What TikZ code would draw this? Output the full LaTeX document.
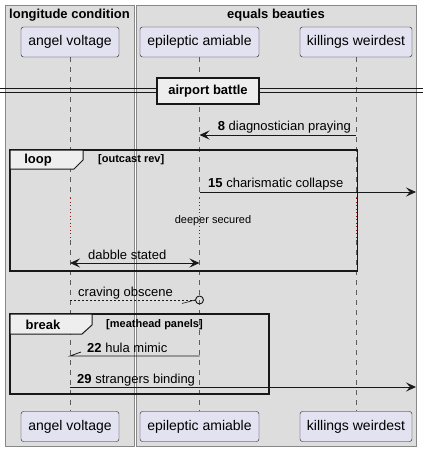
\documentclass[tikz,border=0pt]{standalone}
\usepackage{fontspec}
\setmainfont{Liberation Sans}
\usetikzlibrary{arrows.meta}

\definecolor{boxgray}{HTML}{DDDDDD}
\definecolor{boxline}{HTML}{888888}
\definecolor{partfill}{HTML}{E2E2F0}
\definecolor{ink}{HTML}{181818}
\definecolor{tabfill}{HTML}{EEEEEE}
\definecolor{delayred}{HTML}{8B1A1A}

\tikzset{
  partbox/.style={draw=ink, fill=partfill, rounded corners=2.5pt, minimum height=30pt,
    inner sep=0pt, font=\fontsize{14}{16}\selectfont},
  lifeline/.style={draw=ink!70, line width=0.5pt, dash pattern=on 5pt off 5pt},
  delayline/.style={draw=delayred, line width=0.6pt, dash pattern=on 1pt off 2.5pt},
  msg/.style={draw=ink, line width=0.8pt},
  msgtext/.style={font=\fontsize{13}{15}\selectfont, inner sep=0pt},
  frametitle/.style={font=\bfseries\fontsize{13}{15}\selectfont, inner sep=0pt},
  guard/.style={font=\bfseries\fontsize{11}{13}\selectfont, inner sep=0pt},
  tip/.style={-{Stealth[length=10pt,width=9pt,inset=4pt]}}
}

\begin{document}
\begin{tikzpicture}[x=1pt,y=-1pt]
  \useasboundingbox (0,0) rectangle (423,452);

  % boxes
  \draw[boxline, fill=boxgray] (5,5) rectangle (134,446);
  \draw[boxline, fill=boxgray] (136,5) rectangle (416,446);
  \node[frametitle] (lcTitle) at (69.5,15) {longitude condition};
  \node[frametitle] (ebTitle) at (276,15) {equals beauties};

  % participants
  \node[partbox, minimum width=98pt] (av) at (70,42) {angel voltage};
  \node[partbox, minimum width=119pt] (ea) at (199.5,42) {epileptic amiable};
  \node[partbox, minimum width=112pt] (kw) at (356,42) {killings weirdest};
  \node[partbox, minimum width=98pt] (avB) at (70,426.5) {angel voltage};
  \node[partbox, minimum width=119pt] (eaB) at (199.5,426.5) {epileptic amiable};
  \node[partbox, minimum width=112pt] (kwB) at (356,426.5) {killings weirdest};

  % lifelines
  \foreach \p in {av,ea,kw}{
    \draw[lifeline] (\p.south) -- (\p.south |- 0,198);
    \draw[delayline] (\p.south |- 0,198) -- (\p.south |- 0,240);
    \draw[lifeline] (\p.south |- 0,240) -- (\p B.north);
  }

  % divider
  \draw[ink, line width=0.8pt] (0,88.5) -- (423,88.5);
  \draw[ink, line width=0.8pt] (0,92.5) -- (423,92.5);
  \node[draw=ink, line width=1.5pt, fill=tabfill, minimum width=102pt, minimum height=26pt,
    inner sep=0pt, font=\bfseries\fontsize{13}{15}\selectfont] (battle) at (208,91) {airport battle};

  % 8
  \coordinate (kw8) at (kw.south |- 0,135);
  \coordinate (ea8) at (ea.south |- 0,135);
  \draw[msg, tip] (kw8) -- (ea8);
  \node[msgtext, anchor=base east] (m8) at (351,130) {\textbf{8} diagnostician praying};

  % loop
  \draw[ink, line width=1.5pt] (10,150) rectangle (357.5,271);
  \draw[ink, line width=1pt, fill=tabfill] (10,150) -- (83,150) -- (83,160) -- (74,169) -- (10,169) -- cycle;
  \node[frametitle] (loopTag) at (38,160) {loop};
  \node[guard, anchor=west] (loopGuard) at (98,160) {[outcast rev]};

  \coordinate (ea15) at (ea.south |- 0,192);
  \coordinate (out15) at (416,192);
  \draw[msg, tip] (ea15) -- (out15);
  \node[msgtext, anchor=base west] (m15) at (208,187) {\textbf{15} charismatic collapse};

  \node[font=\fontsize{11}{13}\selectfont, inner sep=0pt] (delay) at (213,221) {deeper secured};

  \coordinate (av26) at (av.south |- 0,263);
  \coordinate (ea26) at (ea.south |- 0,263);
  \draw[msg, {Stealth[length=10pt,width=9pt,inset=4pt]}-{Stealth[length=10pt,width=9pt,inset=4pt]}] (av26) -- (ea26);
  \node[msgtext, anchor=base west] (m26) at (88,259) {dabble stated};

  % lost-ish message with circle
  \coordinate (av30) at (av.south |- 0,300);
  \node[draw=ink, line width=0.9pt, circle, minimum size=8pt, inner sep=0pt] (ring) at (ea.south |- 0,300) {};
  \draw[ink, line width=0.6pt, dash pattern=on 2pt off 2pt] (av30) -- (ring.west);
  \draw[ink, line width=0.6pt] (182,303.5) -- (ring.west);
  \node[msgtext, anchor=base west] (m30) at (78,296) {craving obscene};

  % break
  \draw[ink, line width=1.5pt] (10,314) rectangle (269,394);
  \draw[ink, line width=1pt, fill=tabfill] (10,314) -- (92,314) -- (92,325) -- (82,334) -- (10,334) -- cycle;
  \node[frametitle] (breakTag) at (43,324.5) {break};
  \node[guard, anchor=west] (breakGuard) at (106,324.5) {[meathead panels]};

  \coordinate (ea22) at (ea.south |- 0,356);
  \coordinate (av22) at (av.south |- 0,356);
  \draw[msg] (ea22) -- (av22) -- ++(11,-4);
  \node[msgtext, anchor=base west] (m22) at (87,352) {\textbf{22} hula mimic};

  \coordinate (av29) at (av.south |- 0,387);
  \coordinate (out29) at (416,387);
  \draw[msg, tip] (av29) -- (out29);
  \node[msgtext, anchor=base west] (m29) at (77,383) {\textbf{29} strangers binding};
\end{tikzpicture}
\end{document}
